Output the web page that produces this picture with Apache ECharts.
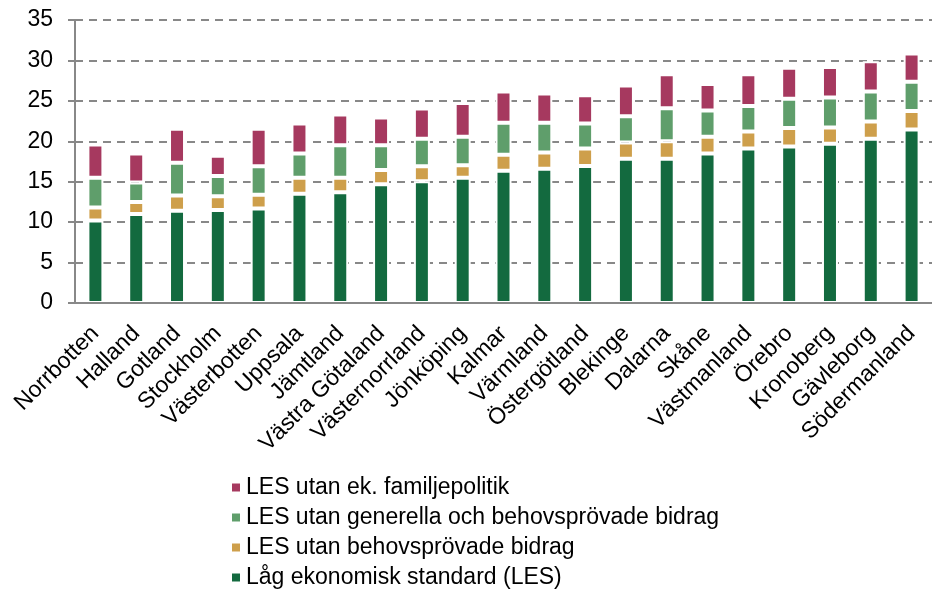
<!DOCTYPE html>
<html>
<head>
<meta charset="utf-8">
<script src="https://cdn.jsdelivr.net/npm/echarts@6/dist/echarts.min.js"></script>
<style>
html,body{margin:0;padding:0;background:#fff;}
#c{width:932px;height:590px;}
</style>
</head>
<body>
<div id="c"></div>
<script>
const categories = ["Norrbotten","Halland","Gotland","Stockholm","Västerbotten","Uppsala","Jämtland","Västra Götaland","Västernorrland","Jönköping","Kalmar","Värmland","Östergötland","Blekinge","Dalarna","Skåne","Västmanland","Örebro","Kronoberg","Gävleborg","Södermanland"];
const les      = [10.2,11.0,11.4,11.5,11.7,13.5,13.7,14.7,15.05,15.5,16.35,16.6,16.95,17.85,17.85,18.5,19.1,19.35,19.7,20.3,21.45];
const utanBehov = [1.6,1.5,1.9,1.7,1.7,2.0,1.8,1.75,1.85,1.55,2.0,2.0,2.15,2.0,2.15,2.05,2.1,2.3,2.0,2.15,2.3];
const utanGenerella = [3.7,2.4,4.05,2.5,3.5,3.0,4.0,3.05,3.4,3.5,3.95,3.7,3.1,3.25,4.1,3.25,3.15,3.6,3.7,3.7,3.6];
const utanFamilj = [4.1,3.6,4.2,2.5,4.65,3.7,3.8,3.45,3.75,4.2,3.85,3.6,3.5,3.8,4.2,3.3,3.95,3.85,3.8,3.75,3.5];
const yTicks = {min:0,max:35,interval:5};

const names = ["Låg ekonomisk standard (LES)","LES utan behovsprövade bidrag","LES utan generella och behovsprövade bidrag","LES utan ek. familjepolitik"];
const colors = ["#136A3F","#CE9F4B","#5F9E6B","#A6395F"];
const dataSets = [les, utanBehov, utanGenerella, utanFamilj];

const font = "'Liberation Sans', Arial, sans-serif";
const gray = "#888888";

const chart = echarts.init(document.getElementById('c'), null, {renderer:'canvas'});
chart.setOption({
  animation:false,
  textStyle:{fontFamily:font},
  grid:{left:75,right:-13,top:20,bottom:287,containLabel:false},
  legend:{
    orient:'vertical',left:230,top:476,height:300,padding:0,
    itemWidth:10,itemHeight:10,itemGap:7,
    icon:'rect',
    data:[names[3],names[2],names[1],names[0]],
    textStyle:{fontSize:23,lineHeight:23,color:'#000',fontFamily:font}
  },
  xAxis:{
    type:'category',data:categories,z:3,
    axisLine:{show:true,lineStyle:{color:gray,width:2}},
    axisTick:{show:false},
    axisLabel:{interval:0,rotate:45,fontSize:23,color:'#000',margin:27,fontFamily:font}
  },
  yAxis:{
    type:'value',min:yTicks.min,max:yTicks.max,interval:yTicks.interval,
    axisLine:{show:true,lineStyle:{color:gray,width:2}},
    axisTick:{show:true,length:7,lineStyle:{color:gray,width:2}},
    axisLabel:{fontSize:23,color:'#000',margin:22,fontFamily:font},
    splitLine:{show:true,lineStyle:{color:gray,width:2,type:[8,6]}}
  },
  series: dataSets.map((d,i)=>({
    name:names[i],type:'bar',stack:'total',data:d,barWidth:16,
    itemStyle:{color:colors[i],borderColor:'#fff',borderWidth:2}
  }))
});
</script>
</body>
</html>
